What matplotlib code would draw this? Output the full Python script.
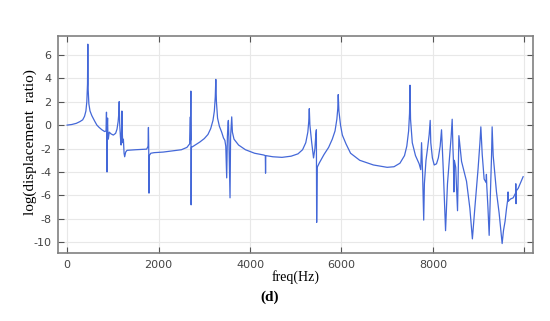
import numpy as np
import matplotlib
matplotlib.use("Agg")
import matplotlib.pyplot as plt

plt.rcParams["axes.unicode_minus"] = False

# digitised frequency response (Hz, log displacement ratio)
freq = [0, 100, 200, 280, 340, 380, 410, 430, 445, 452, 460, 475, 500, 540, 600, 650, 700, 760,
        820, 850, 860, 866, 872, 878, 884, 890, 900, 920, 960, 1010, 1060, 1090, 1115, 1130,
        1138, 1148, 1165, 1180, 1190, 1197, 1205, 1215, 1230, 1245, 1258, 1280, 1310, 1500,
        1740, 1770, 1778, 1784, 1790, 1796, 1830, 1900, 2100, 2300, 2500, 2620, 2680, 2695,
        2700, 2706, 2712, 2718, 2760, 2900, 3000, 3080, 3140, 3190, 3220, 3240, 3252, 3265,
        3290, 3330, 3380, 3420, 3450, 3470, 3490, 3505, 3520, 3527, 3540, 3563, 3575, 3590,
        3600, 3615, 3650, 3750, 3900, 4100, 4300, 4335, 4340, 4345, 4500, 4700, 4900, 5050,
        5150, 5220, 5265, 5285, 5297, 5310, 5350, 5390, 5420, 5440, 5452, 5458, 5470, 5520,
        5620, 5720, 5800, 5860, 5900, 5920, 5930, 5945, 5980, 6020, 6100, 6200, 6400, 6700,
        7000, 7150, 7280, 7380, 7430, 7470, 7490, 7500, 7512, 7550, 7620, 7700, 7735, 7753,
        7775, 7800, 7815, 7850, 7890, 7920, 7942, 7955, 7990, 8030, 8080, 8120, 8160, 8190,
        8230, 8278, 8320, 8370, 8400, 8423, 8440, 8450, 8460, 8470, 8500, 8540, 8560, 8570,
        8628, 8737, 8810, 8865, 8920, 8990, 9030, 9050, 9080, 9122, 9165, 9172, 9180, 9205,
        9232, 9265, 9285, 9297, 9320, 9392, 9450, 9516, 9545, 9580, 9612, 9640, 9645, 9650,
        9700, 9757, 9810, 9815, 9820, 9826, 9866, 9920, 9975]
resp = [0.0, 0.05, 0.15, 0.3, 0.45, 0.75, 1.2, 2.0, 3.5, 6.9, 3.0, 1.8, 1.2, 0.8, 0.35, 0.0, -0.2, -0.4,
        -0.55, -0.5, 1.1, -1.0, -4.0, 0.0, 0.6, -0.6, -1.2, -0.6, -0.75, -0.85, -0.7, -0.35, 0.3, 1.0,
        2.0, 0.2, -1.0, -1.7, -0.5, 1.2, -0.5, -1.5, -1.2, -2.4, -2.7, -2.3, -2.15, -2.1,
        -2.05, -1.8, -0.2, -1.8, -5.8, -2.6, -2.4, -2.35, -2.3, -2.2, -2.1, -1.9, -1.6, 0.7,
        -1.3, 2.9, -6.8, -1.9, -1.8, -1.45, -1.15, -0.8, -0.3, 0.4, 1.2, 2.4, 3.9, 2.0,
        0.6, -0.1, -0.6, -1.1, -1.3, -1.8, -4.5, -1.0, 0.2, 0.4, -1.5, -6.2, -1.0, 0.0,
        0.7, -0.6, -1.2, -1.7, -2.1, -2.4, -2.55, -2.6, -4.1, -2.6, -2.7, -2.75, -2.65, -2.45,
        -2.1, -1.5, -0.6, 0.3, 1.4, 0.0, -1.5, -2.8, -2.0, -0.8, -0.4, -8.3, -3.6, -3.2,
        -2.5, -1.9, -1.2, -0.5, 0.5, 1.4, 2.6, 1.2, 0.0, -0.85, -1.6, -2.4, -3.0, -3.4,
        -3.6, -3.55, -3.25, -2.6, -1.8, -0.5, 1.0, 3.4, 0.5, -1.5, -2.6, -3.3, -3.8, -1.5,
        -4.0, -8.1, -5.0, -3.0, -1.8, -0.8, 0.4, -1.5, -2.8, -3.4, -3.3, -2.8, -1.8, -0.4,
        -4.0, -9.0, -5.0, -2.5, -1.0, 0.5, -2.0, -3.0, -5.7, -3.0, -3.6, -7.3, -3.0, -0.9,
        -3.1, -4.8, -7.1, -9.7, -7.0, -3.7, -1.5, -0.15, -2.5, -4.6, -4.9, -4.2, -5.2, -7.0,
        -9.4, -5.0, -2.5, -0.15, -2.6, -5.7, -7.5, -10.1, -9.0, -8.2, -7.1, -6.3, -5.7, -6.5,
        -6.3, -6.2, -5.8, -5.0, -6.7, -5.6, -5.4, -4.9, -4.4]

xticks = [0, 2000, 4000, 6000, 8000, 10000]
xlabels = ["0", "2000", "4000", "6000", "8000", ""]
yticks = [-10, -8, -6, -4, -2, 0, 2, 4, 6]

fig = plt.figure(figsize=(5.5, 3.21), dpi=100)
ax = fig.add_axes([0.1055, 0.212, 0.8635, 0.676])

ax.plot(freq, resp, color="#4468d8", lw=0.9)

ax.set_xlim(-200, 10190)
ax.set_ylim(-10.9, 7.6)
ax.set_xticks(xticks)
ax.set_xticklabels(xlabels)
ax.set_yticks(yticks)
ax.grid(True, color="#e8e8e8", lw=0.8)
ax.tick_params(direction="in", length=4, width=0.8, colors="#555555", labelsize=8,
               top=True, right=True, labelcolor="#444444", pad=5)
for s in ax.spines.values():
    s.set_color("#808080")
    s.set_linewidth(1.2)

serif = ["Liberation Serif", "DejaVu Serif"]
ax.set_ylabel("log(displacement  ratio)", family=serif, fontsize=11)
ax.yaxis.set_label_coords(-0.045, 0.51)
fig.text(0.538, 0.137, "freq(Hz)", family=serif, fontsize=10, ha="center", va="center")
fig.text(0.49, 0.075, "(d)", family=serif, fontsize=11, fontweight="bold", ha="center", va="center")

fig.savefig("out.png", dpi=100)
